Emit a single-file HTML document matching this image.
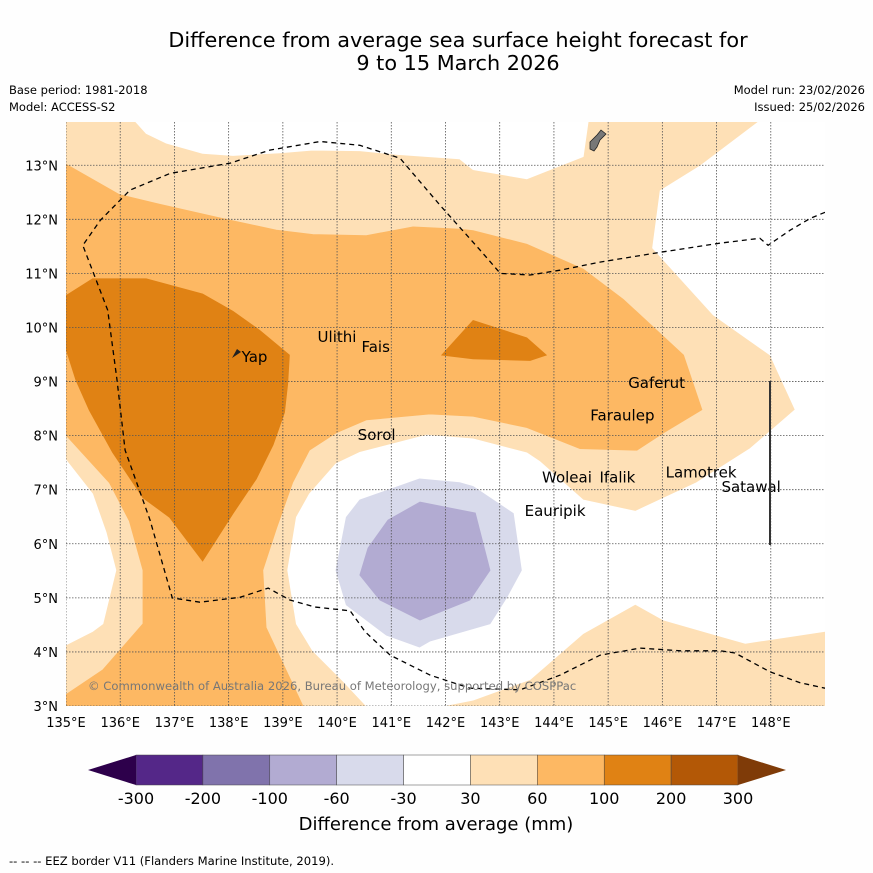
<!DOCTYPE html>
<html><head><meta charset="utf-8"><style>
html,body{margin:0;padding:0;background:#fff;}
svg{display:block;font-family:"DejaVu Sans","Liberation Sans",sans-serif;}
</style></head><body>
<svg id="chart" width="873" height="873" viewBox="0 0 873 873" xmlns="http://www.w3.org/2000/svg">
<rect x="0" y="0" width="873" height="873" fill="#fefefe"/>
<text x="458" y="47" font-size="20.8" text-anchor="middle">Difference from average sea surface height forecast for</text>
<text x="458" y="70" font-size="20.8" text-anchor="middle">9 to 15 March 2026</text>
<text x="9" y="94" font-size="11.5">Base period: 1981-2018</text>
<text x="9" y="111" font-size="11.5">Model: ACCESS-S2</text>
<text x="865" y="94" font-size="11.5" text-anchor="end">Model run: 23/02/2026</text>
<text x="865" y="111" font-size="11.5" text-anchor="end">Issued: 25/02/2026</text>
<defs><clipPath id="mapclip"><rect x="66" y="122" width="759" height="584"/></clipPath></defs>
<g id="map" clip-path="url(#mapclip)"></g>
<g id="axes"></g>
<g id="cbar"></g>
<text x="436" y="830" font-size="18" text-anchor="middle">Difference from average (mm)</text>
<text x="9" y="865" font-size="11.6">--  --  -- EEZ border V11 (Flanders Marine Institute, 2019).</text>
</svg>
<script>
const lonMin=135, lonMax=149, latMin=3, latMax=13.8;
const xTicks=[135,136,137,138,139,140,141,142,143,144,145,146,147,148];
const yTicks=[3,4,5,6,7,8,9,10,11,12,13];
const levels=[-300,-200,-100,-60,-30,30,60,100,200,300];
const levelColors=["#542788","#8073ac","#b2abd2","#d8daeb","#ffffff","#fee0b6","#fdb863","#e08214","#b35806"];
const lowColor="#2d004b", highColor="#7f3b08";
const baseLevel=30;
const whiteTop=[[136.29,13.8],[136.48,13.59],[136.85,13.41],[137.52,13.22],[138.08,13.18],[138.94,13.23],[139.55,13.28],[140.42,13.27],[141.09,13.2],[142.26,13.12],[142.51,12.92],[143.5,12.75],[144.54,13.16],[144.63,13.8]];
const whiteBig=[[147.77,13.8],[149,13.8],[149,4.38],[147.53,4.16],[147.0,4.31],[146.02,4.59],[145.5,4.88],[144.54,4.34],[143.56,3.49],[142.51,3.11],[141.96,3.0],[140.54,3.0],[140.11,3.46],[139.55,4.02],[139.25,4.52],[139.09,5.51],[139.25,6.49],[139.49,6.92],[139.98,7.48],[140.42,7.69],[141.65,8.01],[142.51,7.94],[143.5,7.68],[143.74,7.52],[144.54,6.81],[145.5,6.6],[146.63,7.13],[147.62,7.76],[148.45,8.48],[147.99,9.49],[146.94,10.23],[145.82,11.47],[145.96,12.53],[146.7,12.99]];
const whiteLeft=[[135,7.55],[135.49,6.92],[135.74,6.21],[135.92,5.51],[135.68,4.52],[135.49,4.38],[135,4.13]];
const medOrange=[[135,13.02],[135.98,12.46],[136.72,12.28],[137.95,12.0],[138.88,11.8],[139.55,11.72],[140.54,11.7],[141.4,11.86],[142.26,11.82],[142.51,11.79],[143.5,11.54],[144.54,11.08],[145.28,10.52],[146.39,9.49],[146.73,8.48],[146.02,8.05],[145.53,7.73],[144.48,7.76],[143.5,8.15],[142.51,8.36],[141.71,8.4],[140.54,8.29],[139.98,8.05],[139.49,7.73],[139.18,7.13],[138.88,6.28],[138.63,5.51],[138.69,4.45],[139.37,3.0],[135,3.0],[135,3.21],[135.68,3.67],[136.42,4.52],[136.42,5.51],[136.17,6.42],[135.8,7.13],[135,8.01]];
const darkLeft=[[135,10.59],[135.49,10.9],[136.48,10.9],[137.52,10.62],[138.08,10.3],[138.57,9.95],[139.12,9.49],[139.09,8.96],[139.03,8.43],[138.82,7.83],[138.51,7.2],[138.08,6.56],[137.52,5.68],[136.91,6.49],[136.42,6.85],[135.86,7.69],[135.43,8.47],[135.18,9.03],[135,9.6]];
const darkSmall=[[141.93,9.49],[142.51,10.13],[143.5,9.81],[143.86,9.49],[143.56,9.39],[142.51,9.42]];
const purpleLight=[[139.98,5.51],[140.17,6.49],[140.42,6.81],[141.52,7.2],[142.26,7.13],[142.51,7.06],[143.25,6.56],[143.4,5.51],[143.13,5.01],[142.82,4.52],[141.71,4.2],[141.52,4.09],[140.91,4.31],[140.17,4.87]];
const purpleMid=[[140.42,5.42],[140.57,5.92],[140.94,6.44],[141.53,6.77],[142.55,6.57],[142.82,5.51],[142.45,4.96],[141.53,4.59],[140.79,4.96]];
const eez=[[149,12.13],[148.73,12.02],[148.36,11.8],[147.95,11.52],[147.8,11.65],[147.07,11.56],[145.96,11.39],[144.85,11.21],[144.11,11.06],[143.56,10.97],[143.01,11.0],[142.64,11.43],[141.9,12.26],[141.16,13.13],[140.42,13.37],[139.69,13.44],[138.76,13.28],[138.03,13.04],[136.92,12.85],[136.18,12.54],[135.63,11.98],[135.31,11.52],[135.77,10.32],[135.94,9.03],[136.09,7.73],[136.55,6.44],[136.96,5.0],[137.47,4.92],[138.21,5.01],[138.73,5.18],[139.13,4.96],[139.59,4.83],[140.24,4.76],[140.52,4.37],[140.98,3.94],[141.72,3.57],[142.45,3.33],[143.38,3.3],[144.11,3.57],[144.85,3.94],[145.59,4.07],[146.33,4.02],[147.07,4.02],[147.34,3.98],[147.99,3.63],[148.54,3.43],[149,3.33]];
const islandNames=["Yap","Ulithi","Fais","Gaferut","Faraulep","Sorol","Woleai","Ifalik","Eauripik","Lamotrek","Satawal"];
const islandLon=[138.24,139.64,140.45,145.37,144.67,140.38,143.78,144.84,143.46,146.06,147.09];
const islandLat=[9.36,9.73,9.55,8.88,8.28,7.92,7.13,7.13,6.51,7.23,6.96];

const NS="http://www.w3.org/2000/svg";
const X=lon=>66+(lon-lonMin)*(759/(lonMax-lonMin));
const Y=lat=>706-(lat-latMin)*(584/(latMax-latMin));
function colorFor(v){for(let i=0;i<levels.length-1;i++){if(v>=levels[i]&&v<levels[i+1])return levelColors[i];}return v<levels[0]?lowColor:highColor;}
function mk(tag,attrs,parent){const e=document.createElementNS(NS,tag);for(const k in attrs)e.setAttribute(k,attrs[k]);parent.appendChild(e);return e;}
const map=document.getElementById('map');
const axes=document.getElementById('axes');
const cbar=document.getElementById('cbar');
let bg=mk('rect',{x:66,y:122,width:759,height:584,fill:colorFor(baseLevel)},map);


function poly(pts,val,name){const p=mk('polygon',{points:pts.map(q=>X(q[0]).toFixed(1)+','+Y(q[1]).toFixed(1)).join(' '),fill:colorFor(val),stroke:colorFor(val),'stroke-width':0.8},map);

}
poly(whiteTop,0,'contour-neutral-north');
poly(whiteBig,0,'contour-neutral-east');
poly(whiteLeft,0,'contour-neutral-west');
poly(medOrange,80,'contour-60-100');
poly(darkLeft,150,'contour-100-200-west');
poly(darkSmall,150,'contour-100-200-central');
poly(purpleLight,-45,'contour-minus60-minus30');
poly(purpleMid,-80,'contour-minus100-minus60');
xTicks.forEach(t=>{const l=mk('line',{x1:X(t),x2:X(t),y1:122,y2:706,stroke:'#555','stroke-width':0.8,'stroke-dasharray':'1.5,1.5'},map);

});
yTicks.forEach(t=>{const l=mk('line',{x1:66,x2:825,y1:Y(t),y2:Y(t),stroke:'#555','stroke-width':0.8,'stroke-dasharray':'1.5,1.5'},map);

});
const ez=mk('polyline',{points:eez.map(q=>X(q[0]).toFixed(1)+','+Y(q[1]).toFixed(1)).join(' '),fill:'none',stroke:'#000','stroke-width':1.3,'stroke-dasharray':'5,4'},map);


const gu=mk('path',{d:'M590,142 L597,135 L601,130 L606,134 L600,140 L597,147 L594,151 L590,149 Z',fill:'#777',stroke:'#222','stroke-width':0.8},map);


const yp=mk('path',{d:'M232,358 L237,349 L241,352 Z',fill:'#222'},map);


islandNames.forEach((n,i)=>{const t=mk('text',{x:X(islandLon[i]),y:Y(islandLat[i]),'font-size':15},map);t.textContent=n;

});
const vl=mk('line',{x1:770,x2:770,y1:381,y2:545,stroke:'#333','stroke-width':2},map);


const cp=mk('text',{x:88,y:690,'font-size':11.6,fill:'#777'},map);cp.textContent='© Commonwealth of Australia 2026, Bureau of Meteorology, supported by COSPPac';


xTicks.forEach(t=>{const e=mk('text',{x:X(t),y:727,'font-size':13,'text-anchor':'middle'},axes);e.textContent=t+'°E';

});
yTicks.forEach(t=>{const e=mk('text',{x:58,y:Y(t)+5,'font-size':13,'text-anchor':'end'},axes);e.textContent=t+'°N';

});
const cx0=136,cw=602/(levels.length-1),cy=755,ch=30;
for(let i=0;i<levels.length-1;i++){const r=mk('rect',{x:cx0+i*cw,y:cy,width:cw,height:ch,fill:levelColors[i],stroke:'#444','stroke-width':0.5},cbar);

}
const lo=mk('polygon',{points:`${cx0},${cy} ${cx0},${cy+ch} 88,${cy+ch/2}`,fill:lowColor},cbar);


const hi=mk('polygon',{points:`${cx0+602},${cy} ${cx0+602},${cy+ch} 786,${cy+ch/2}`,fill:highColor},cbar);


levels.forEach((v,i)=>{const e=mk('text',{x:cx0+i*cw,y:804,'font-size':16,'text-anchor':'middle'},cbar);e.textContent=v;

});
</script>
</body></html>
